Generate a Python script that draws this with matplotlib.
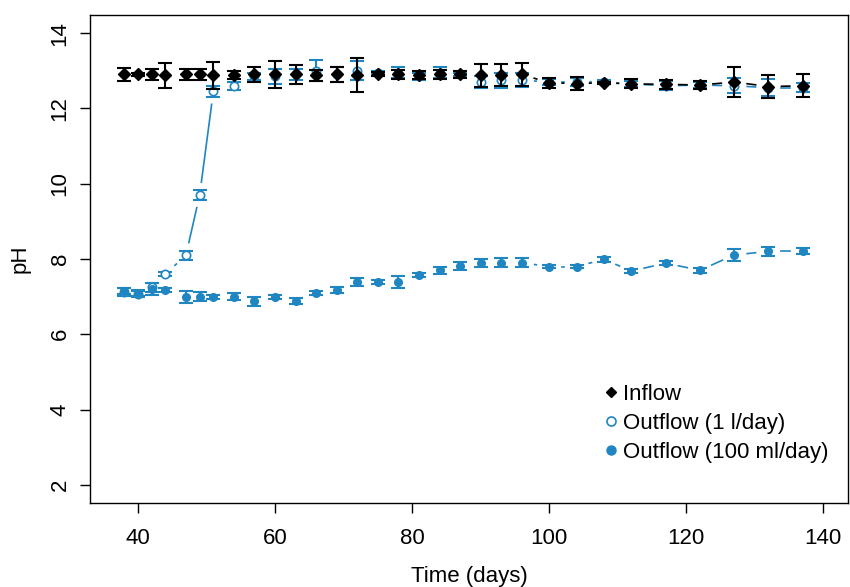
import numpy as np
import matplotlib
matplotlib.use("Agg")
import matplotlib.pyplot as plt
from matplotlib.lines import Line2D

plt.rcParams['font.family'] = ['Liberation Sans', 'DejaVu Sans']

days = [38, 40, 42, 44, 47, 49, 51, 54, 57, 60, 63, 66, 69, 72, 75, 78,
        81, 84, 87, 90, 93, 96, 100, 104, 108, 112, 117, 122, 127, 132, 137]

inflow_ph = [12.9, 12.9, 12.9, 12.88, 12.9, 12.9, 12.88, 12.88, 12.9, 12.9, 12.9,
             12.88, 12.9, 12.88, 12.92, 12.9, 12.88, 12.9, 12.9, 12.88, 12.89,
             12.9, 12.68, 12.66, 12.68, 12.65, 12.64, 12.62, 12.7, 12.58, 12.6]
inflow_err = [0.17, 0.05, 0.14, 0.33, 0.15, 0.15, 0.36, 0.1, 0.2, 0.36, 0.25,
              0.15, 0.2, 0.45, 0.05, 0.12, 0.1, 0.12, 0.08, 0.3, 0.3,
              0.3, 0.14, 0.17, 0.03, 0.12, 0.12, 0.1, 0.4, 0.31, 0.3]

out1_ph = [7.12, 7.08, 7.25, 7.6, 8.1, 9.7, 12.45, 12.6, 12.85, 12.85, 12.9,
           13.0, 12.9, 13.0, 12.95, 12.95, 12.85, 12.95, 12.9, 12.7, 12.75,
           12.75, 12.7, 12.7, 12.7, 12.65, 12.6, 12.62, 12.6, 12.55, 12.55]
out1_err = [0.1, 0.08, 0.12, 0.06, 0.12, 0.12, 0.15, 0.1, 0.1, 0.2, 0.15,
            0.28, 0.2, 0.25, 0.05, 0.15, 0.1, 0.15, 0.05, 0.15, 0.2,
            0.18, 0.08, 0.1, 0.05, 0.08, 0.12, 0.08, 0.2, 0.22, 0.12]

out100_ph = [7.15, 7.1, 7.2, 7.18, 6.99, 7.0, 7.0, 7.0, 6.88, 7.0, 6.88,
             7.09, 7.18, 7.39, 7.39, 7.39, 7.58, 7.7, 7.81, 7.9, 7.9,
             7.9, 7.8, 7.8, 7.99, 7.68, 7.89, 7.7, 8.11, 8.2, 8.2]
out100_err = [0.08, 0.08, 0.15, 0.06, 0.16, 0.12, 0.05, 0.1, 0.12, 0.05, 0.08,
              0.05, 0.08, 0.1, 0.05, 0.15, 0.05, 0.1, 0.1, 0.1, 0.12,
              0.12, 0.05, 0.05, 0.06, 0.05, 0.05, 0.06, 0.15, 0.12, 0.08]

blue = '#1f86c1'
black = '#000000'


def gapped_line(ax, x, y, color, gap=13):
    # lines between points with a gap round each point (like R type="b")
    pts = ax.transData.transform(np.column_stack([x, y]))
    inv = ax.transData.inverted()
    for p0, p1 in zip(pts[:-1], pts[1:]):
        d = p1 - p0
        L = np.hypot(d[0], d[1])
        if L <= 2 * gap:
            continue
        u = d / L
        a = inv.transform(p0 + u * gap)
        b = inv.transform(p1 - u * gap)
        ax.plot([a[0], b[0]], [a[1], b[1]], color=color, lw=1.2, zorder=1)


fig = plt.figure(figsize=(8.5, 5.87), dpi=100)
ax = fig.add_axes([90 / 850, 84 / 587, 758 / 850, 488 / 587])
ax.set_xlim(33, 143.6)
ax.set_ylim(1.52, 14.48)

gapped_line(ax, days, out1_ph, blue)
gapped_line(ax, days, out100_ph, blue)
gapped_line(ax, days, inflow_ph, black)

ekw = dict(fmt='none', elinewidth=1.5, capsize=4.8, capthick=1.5, zorder=2)
ax.errorbar(days, out1_ph, yerr=out1_err, ecolor=blue, **ekw)
ax.errorbar(days, out100_ph, yerr=out100_err, ecolor=blue, **ekw)
ax.plot(days, out1_ph, ls='none', marker='o', ms=6, mfc='white', mec=blue, mew=1.2, zorder=3)
ax.plot(days, out100_ph, ls='none', marker='o', ms=5.5, mfc=blue, mec=blue, zorder=3)
ax.errorbar(days, inflow_ph, yerr=inflow_err, ecolor=black, **dict(ekw, zorder=4))
ax.plot(days, inflow_ph, ls='none', marker='D', ms=6.5, mfc=black, mec=black, zorder=5)

ax.set_xticks([40, 60, 80, 100, 120, 140])
ax.set_yticks([2, 4, 6, 8, 10, 12, 14])
ax.set_yticklabels(['2', '4', '6', '8', '10', '12', '14'], rotation=90, va='center')
ax.tick_params(axis='both', direction='out', length=7, width=1, labelsize=16)
ax.tick_params(axis='x', pad=11)
ax.tick_params(axis='y', pad=7)
for sp in ax.spines.values():
    sp.set_linewidth(1)

ax.set_xlabel('Time (days)', fontsize=16, labelpad=12)
ax.set_ylabel('pH', fontsize=16, labelpad=14)

handles = [
    Line2D([], [], ls='none', marker='D', ms=5.5, color=black),
    Line2D([], [], ls='none', marker='o', ms=6.5, mfc='white', mec=blue, mew=1.2),
    Line2D([], [], ls='none', marker='o', ms=6.5, color=blue),
]
labels = ['Inflow', 'Outflow (1 l/day)', 'Outflow (100 ml/day)']
ax.legend(handles, labels, loc='upper left', bbox_to_anchor=(0.668, 0.262),
          frameon=False, fontsize=16, handlelength=0.5, handletextpad=0.3,
          labelspacing=0.36, borderaxespad=0)

fig.savefig('out.png', dpi=100)
